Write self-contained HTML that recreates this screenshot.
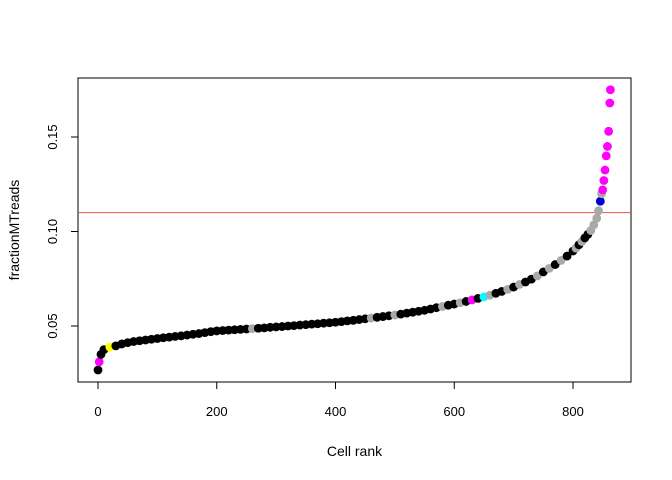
<!DOCTYPE html>
<html><head><meta charset="utf-8"><style>
body{margin:0;background:#fff}
svg{display:block;font-family:"Liberation Sans",Arial,sans-serif}
</style></head><body>
<svg id="chart" width="672" height="480">
<rect x="78" y="78" width="553" height="304" fill="none" stroke="#000" stroke-width="1"/>
<g id="axes"></g>
<line id="thr" stroke="#e8524a" stroke-width="1"/>
<g id="pts"></g>
<text x="354.5" y="456" text-anchor="middle" font-size="14">Cell rank</text>
<text transform="translate(19,230) rotate(-90)" text-anchor="middle" font-size="14">fractionMTreads</text>
</svg>
<script>
const ranks=[0,2,5,10,20,30,40,50,60,70,80,90,100,110,120,130,140,150,160,170,180,190,200,210,220,230,240,250,260,270,280,290,300,310,320,330,340,350,360,370,380,390,400,410,420,430,440,450,460,470,480,490,500,510,520,530,540,550,560,570,580,590,600,610,620,630,640,650,660,670,680,690,700,710,720,730,740,750,760,770,780,790,800,805,810,815,820,825,830,835,840,843,846,848,850,852,854,856,858,860,862,863];
const fraction=[0.0267,0.031,0.035,0.0375,0.0388,0.0395,0.0405,0.0412,0.0418,0.0422,0.0426,0.0430,0.0434,0.0438,0.0441,0.0445,0.0448,0.0452,0.0456,0.0460,0.0465,0.0470,0.0474,0.0476,0.0478,0.0480,0.0482,0.0484,0.0486,0.0488,0.0490,0.0493,0.0495,0.0497,0.0500,0.0502,0.0505,0.0507,0.0510,0.0512,0.0515,0.0517,0.0520,0.0523,0.0527,0.0530,0.0534,0.0538,0.0542,0.0546,0.0550,0.0554,0.0558,0.0563,0.0568,0.0573,0.0578,0.0583,0.0590,0.0597,0.0603,0.0610,0.0616,0.0623,0.0630,0.0638,0.0646,0.0654,0.0663,0.0673,0.0683,0.0694,0.0706,0.0720,0.0733,0.0748,0.0765,0.0786,0.0805,0.0825,0.0847,0.0870,0.0897,0.0912,0.0930,0.0947,0.0966,0.0985,0.1005,0.1035,0.1070,0.111,0.116,0.120,0.122,0.127,0.1325,0.140,0.145,0.153,0.168,0.175];
const colorIdx=[0,1,0,0,2,0,0,0,0,0,0,0,0,0,0,0,0,0,0,0,0,0,0,0,0,0,0,0,3,0,0,0,0,0,0,0,0,0,0,0,0,0,0,0,0,0,0,0,3,0,0,0,3,0,0,0,0,0,0,0,3,0,0,3,0,1,0,4,3,0,0,3,0,3,0,0,3,0,3,0,3,0,0,3,0,3,0,0,3,3,3,3,5,3,1,1,1,1,1,1,1,1];
const palette=["#000000","#ff00ff","#ffff00","#a9a9a9","#00ffff","#0000cd"];
const xTicks=[0,200,400,600,800];
const yTicks=[0.05,0.10,0.15];
const yTickLabels=["0.05","0.10","0.15"];
const threshold=0.11;
const NS="http://www.w3.org/2000/svg";
const xs=r=>98+r*0.59375;
const ys=v=>326-(v-0.05)*1890;
const ax=document.getElementById('axes');
function mk(t,a,p){const e=document.createElementNS(NS,t);for(const k in a)e.setAttribute(k,a[k]);p.appendChild(e);return e;}
const xl=mk('line',{x1:xs(xTicks[0]),x2:xs(xTicks[xTicks.length-1]),y1:382,y2:382,stroke:'#000'},ax);


xTicks.forEach(t=>{
 const l=mk('line',{x1:xs(t),x2:xs(t),y1:382,y2:389,stroke:'#000'},ax);
 
 
 const tx=mk('text',{x:xs(t),y:416,'text-anchor':'middle','font-size':13},ax);tx.textContent=t;
 
 
});
yTicks.forEach((t,i)=>{
 const l=mk('line',{x1:71,x2:78,y1:ys(t),y2:ys(t),stroke:'#000'},ax);
 
 
 const tx=mk('text',{transform:`translate(57,${ys(t)}) rotate(-90)`,'text-anchor':'middle','font-size':13},ax);tx.textContent=yTickLabels[i];
 
 
});
const yl=mk('line',{x1:78,x2:78,y1:ys(yTicks[0]),y2:ys(yTicks[2]),stroke:'#000'},ax);


const th=document.getElementById('thr');
th.setAttribute('x1',78);th.setAttribute('x2',631);th.setAttribute('y1',ys(threshold));th.setAttribute('y2',ys(threshold));
const pg=document.getElementById('pts');
ranks.forEach((r,i)=>{
 const c=mk('circle',{cx:xs(r),cy:ys(fraction[i]),r:4.4,fill:palette[colorIdx[i]]},pg);
 
 
});
</script>
</body></html>
